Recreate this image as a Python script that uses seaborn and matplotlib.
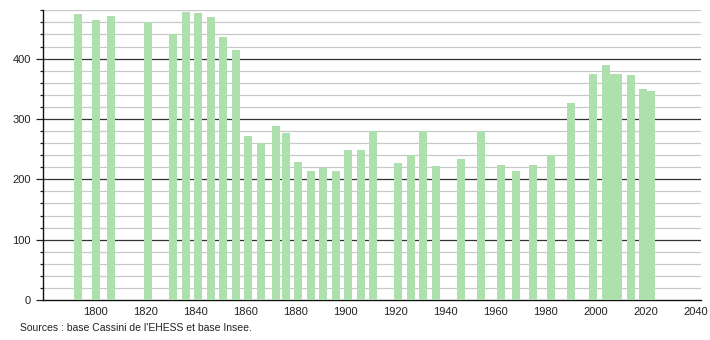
import numpy as np
import pandas as pd
import matplotlib
matplotlib.use("Agg")
import matplotlib.pyplot as plt
from matplotlib.ticker import MultipleLocator
import seaborn as sns

years = [1793, 1800, 1806, 1821, 1831, 1836, 1841, 1846, 1851, 1856,
         1861, 1866, 1872, 1876, 1881, 1886, 1891, 1896, 1901, 1906,
         1911, 1921, 1926, 1931, 1936, 1946, 1954, 1962, 1968, 1975,
         1982, 1990, 1999, 2004, 2007, 2009, 2014, 2019, 2022]
population = [474, 464, 470, 461, 440, 478, 475, 469, 435, 415,
              271, 260, 289, 276, 229, 214, 219, 214, 248, 249,
              280, 227, 240, 280, 222, 234, 280, 223, 214, 224,
              240, 326, 374, 390, 374, 374, 373, 349, 347]
x_ticks = list(range(1800, 2041, 20))
y_ticks = [0, 100, 200, 300, 400]
source_text = "Sources : base Cassini de l'EHESS et base Insee."

df = pd.DataFrame({"year": years, "pop": population})

sns.set_style("white")
plt.rcParams["font.family"] = ["Liberation Sans Narrow", "Liberation Sans", "DejaVu Sans"]

fig = plt.figure(figsize=(7.1, 3.4), dpi=100)
ax = fig.add_axes([0.061, 0.1176, 0.926, 0.852])

bar_years = 3.07
min_gap = float(np.min(np.diff(sorted(years))))
sns.barplot(data=df, x="year", y="pop", native_scale=True,
            width=bar_years / min_gap, color="#ade0ad", saturation=1,
            edgecolor="none", linewidth=0, ax=ax, zorder=3)

ax.set_xlim(1779, 2042)
ax.set_ylim(0, 480)

# grid lines
for v in range(20, 481, 20):
    if v % 100 == 0:
        ax.axhline(v, color="#333333", lw=0.9, zorder=1)
    else:
        ax.axhline(v, color="#c8c8c8", lw=0.9, zorder=1)

ax.set_xticks(x_ticks)
ax.set_xticklabels([str(t) for t in x_ticks])
ax.set_yticks(y_ticks)
ax.set_yticklabels([str(t) for t in y_ticks])
ax.yaxis.set_minor_locator(MultipleLocator(20))
ax.tick_params(axis="x", length=0, labelsize=8, pad=5, colors="#222222")
ax.tick_params(axis="y", which="major", length=5, width=0.9, labelsize=8,
               pad=4, colors="#222222", left=True)
ax.tick_params(axis="y", which="minor", length=2.5, width=0.9, color="#222222", left=True)
ax.set_xlabel("")
ax.set_ylabel("")

for side in ["top", "right"]:
    ax.spines[side].set_visible(False)
for side in ["left", "bottom"]:
    ax.spines[side].set_visible(True)
    ax.spines[side].set_color("#111111")
    ax.spines[side].set_linewidth(1.0)

fig.text(20 / 710, 1 - 328 / 340, source_text, fontsize=7.5, color="#222222",
         ha="left", va="center")

fig.savefig("out.png", dpi=100)
